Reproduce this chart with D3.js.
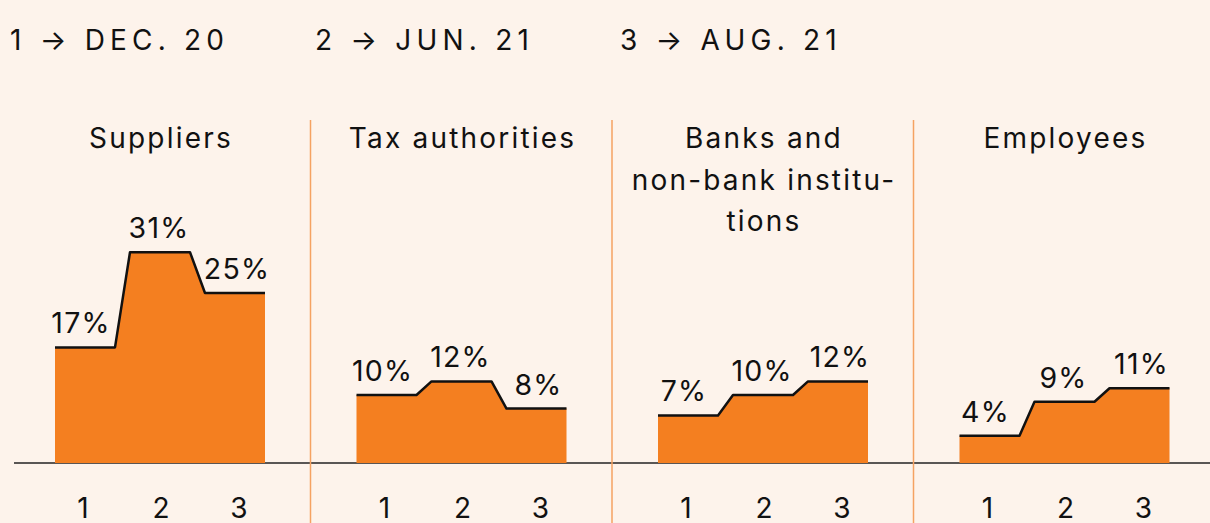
<!DOCTYPE html>
<html>
<head>
<meta charset="utf-8">
<script src="https://cdn.jsdelivr.net/npm/d3@7"></script>
<style>
  html, body { margin: 0; padding: 0; background: #fdf3eb; }
  svg { display: block; font-family: Inter, "Noto Sans", sans-serif; }
</style>
</head>
<body>
<div id="chart"></div>
<script>
// period legend up top
const periodKeys = ["1", "2", "3"];
const periodLabels = ["1 \u2192 DEC. 20", "2 \u2192 JUN. 21", "3 \u2192 AUG. 21"];

// one small multiple per creditor group
const groups = ["Suppliers", "Tax authorities", "Banks and non-bank institutions", "Employees"];
const groupTitles = [["Suppliers"], ["Tax authorities"], ["Banks and", "non-bank institu-", "tions"], ["Employees"]];

// shares in %, per period
const suppliers = [17, 31, 25];
const taxAuthorities = [10, 12, 8];
const banks = [7, 10, 12];
const employees = [4, 9, 11];
const values = [suppliers, taxAuthorities, banks, employees];

const width = 1210, height = 523;
const baseY = 463;

const svg = d3.select("#chart").append("svg")
    .attr("width", width)
    .attr("height", height);

svg.append("rect").attr("width", width).attr("height", height).attr("fill", "#fdf3eb");

// legend
const legendX = d3.scalePoint().domain(periodKeys).range([10, 620]);
svg.append("g")
  .selectAll("text")
  .data(periodKeys)
  .join("text")
    .attr("x", d => legendX(d))
    .attr("y", 50)
    .attr("font-size", 28)
    .attr("letter-spacing", 5.2)
    .attr("fill", "#111")
    .text((d, i) => periodLabels[i]);

const panel = d3.scaleBand().domain(groups).range([9, 1215]);
const x = d3.scaleBand().domain(periodKeys).range([46, 256]).paddingInner(0.2).paddingOuter(0);
const tickX = d3.scalePoint().domain(periodKeys).range([74, 230]);
const y = d3.scaleLinear().domain([0, 40]).range([baseY, baseY - 272]);

// baseline
svg.append("line")
    .attr("x1", 14).attr("x2", width)
    .attr("y1", baseY).attr("y2", baseY)
    .attr("stroke", "#222").attr("stroke-width", 1.5);

// dividers
svg.append("g")
  .selectAll("line")
  .data(groups.slice(1))
  .join("line")
    .attr("x1", d => panel(d)).attr("x2", d => panel(d))
    .attr("y1", 120).attr("y2", height)
    .attr("stroke", "#f5a262").attr("stroke-width", 1.5);

const steps = vals => vals.flatMap((v, i) => [
  [x(periodKeys[i]), v],
  [x(periodKeys[i]) + x.bandwidth(), v]
]);

const area = d3.area().x(d => d[0]).y0(baseY).y1(d => y(d[1]));
const line = d3.line().x(d => d[0]).y(d => y(d[1]));

const g = svg.selectAll(".panel")
  .data(groups)
  .join("g")
    .attr("class", "panel")
    .attr("transform", d => `translate(${panel(d)},0)`);

g.append("path")
    .attr("d", (d, i) => area(steps(values[i])))
    .attr("fill", "#f47f20");

g.append("path")
    .attr("d", (d, i) => line(steps(values[i])))
    .attr("fill", "none")
    .attr("stroke", "#111")
    .attr("stroke-width", 2.5)
    .attr("stroke-linejoin", "round");

// titles
g.each(function(d, i) {
  const t = d3.select(this).append("text")
    .attr("x", 152)
    .attr("y", 148)
    .attr("text-anchor", "middle")
    .attr("font-size", 28)
    .attr("letter-spacing", 2.2)
    .attr("fill", "#111");
  t.selectAll("tspan")
    .data(groupTitles[i])
    .join("tspan")
      .attr("x", 152)
      .attr("dy", (s, j) => j ? 41.5 : 0)
      .text(s => s);
});

// value labels
g.each(function(d, i) {
  d3.select(this).selectAll(".val")
    .data(values[i])
    .join("text")
      .attr("class", "val")
      .attr("x", (v, j) => tickX(periodKeys[j]) - 2)
      .attr("y", v => y(v) - 14)
      .attr("text-anchor", "middle")
      .attr("font-size", 28.5)
      .attr("letter-spacing", 1.2)
      .attr("fill", "#111")
      .text(v => v + "%");
});

// period ticks
g.each(function() {
  d3.select(this).selectAll(".tick")
    .data(periodKeys)
    .join("text")
      .attr("class", "tick")
      .attr("x", k => tickX(k))
      .attr("y", 518)
      .attr("text-anchor", "middle")
      .attr("font-size", 28)
      .attr("fill", "#111")
      .text(k => k);
});
</script>
</body>
</html>
